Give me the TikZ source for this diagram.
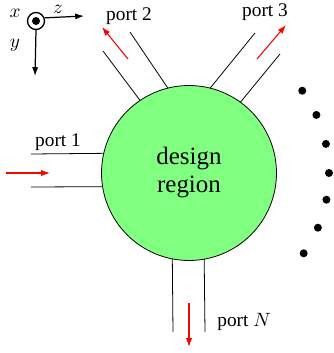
\documentclass[tikz,border=0pt]{standalone}
\usepackage{fontspec}
\setmainfont{Liberation Serif}
\usetikzlibrary{arrows.meta, calc}
\definecolor{regiongreen}{RGB}{128,255,128}
\tikzset{
  wall/.style={line width=0.45pt},
  flow/.style={red, line width=0.6pt, -{Latex[length=5pt,width=3.5pt]}},
  axis/.style={line width=0.7pt, -{Latex[length=5pt,width=3.5pt]}},
  portlabel/.style={font=\fontsize{11}{13}\selectfont, inner sep=0pt}
}
\begin{document}
\begin{tikzpicture}[x=0.02cm, y=0.02cm]
				\useasboundingbox (0,0) rectangle (334,353);
				\node[draw, circle, fill=regiongreen, line width=0.45pt, minimum size=3.5cm, inner sep=0pt, outer sep=0pt, align=center, font=\fontsize{14.2}{15.9}\selectfont] (D)at(189, 180) {design\\region};
				% port 1
				\coordinate (P1a)at(31, 199);
				\coordinate (P1b)at(31, 166);
				\draw[wall] (P1a) -- (D.167.5);
				\draw[wall] (P1b) -- (D.189.2);
				\coordinate (F1a)at(6, 180);
				\coordinate (F1b)at(50, 180);
				\draw[flow] (F1a) -- (F1b);
				\node[portlabel] (L1)at(58, 211) {port 1};
				% port 2
				\coordinate (P2a)at(103, 302);
				\coordinate (P2b)at(130, 321);
				\draw[wall] (D.124) -- (P2a);
				\draw[wall] (D.104.3) -- (P2b);
				\coordinate (F2a)at(128, 294);
				\coordinate (F2b)at(102, 326);
				\draw[flow] (F2a) -- (F2b);
				\node[portlabel] (L2)at(129, 337) {port 2};
				% port 3
				\coordinate (P3a)at(255, 320);
				\coordinate (P3b)at(280, 299);
				\draw[wall] (D.76.3) -- (P3a);
				\draw[wall] (D.54.5) -- (P3b);
				\coordinate (F3a)at(257, 294);
				\coordinate (F3b)at(286, 328);
				\draw[flow] (F3a) -- (F3b);
				\node[portlabel] (L3)at(265, 341) {port 3};
				% port N
				\coordinate (PNa)at(173, 21);
				\coordinate (PNb)at(205, 21);
				\draw[wall] (D.259.5) -- (PNa);
				\draw[wall] (D.280.5) -- (PNb);
				\coordinate (FNa)at(189, 50);
				\coordinate (FNb)at(189, 6);
				\draw[flow] (FNa) -- (FNb);
				\node[portlabel, anchor=west] (LN)at(217, 31) {port $N$};
				% more ports
				\foreach \a in {36, 24.5, 12, 0, -11, -23, -35}
					\fill ($(D.center)+(\a:140)$) circle (4);
				% axes
				\node[draw, circle, line width=0.75pt, minimum size=0.34cm, inner sep=0pt] (O)at(36, 332) {};
				\fill (O.center) circle (4);
				\coordinate (Z)at(84, 337);
				\coordinate (Y)at(35, 277);
				\draw[axis] (O.20) -- (Z);
				\draw[axis] (O.south) -- (Y);
				\node[portlabel] (LX)at(15, 340) {$x$};
				\node[portlabel] (LZ)at(58, 344) {$z$};
				\node[portlabel] (LY)at(15, 308) {$y$};
			\end{tikzpicture}
\end{document}
